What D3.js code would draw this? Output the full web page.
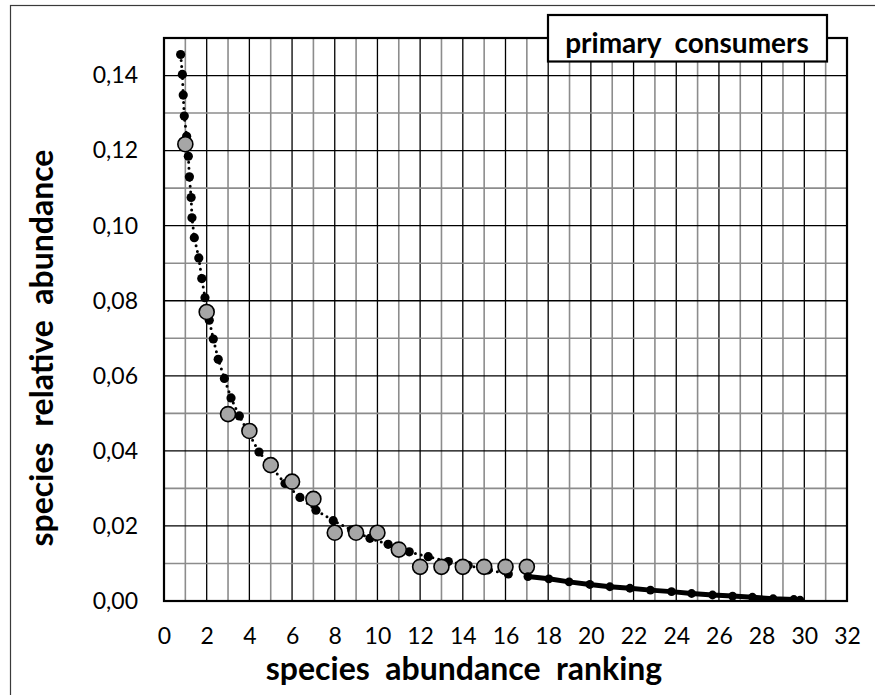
<!DOCTYPE html>
<html>
<head>
<meta charset="utf-8">
<script src="https://cdn.jsdelivr.net/npm/d3@7"></script>
<style>
  html, body { margin: 0; padding: 0; background: #fff; }
  svg { display: block; font-family: Lato, "Open Sans", sans-serif; }
</style>
</head>
<body>
<div id="chart-area"></div>
<script>
// ranked species (sampled, gray circles)
const RANKS = [1, 2, 3, 4, 5, 6, 7, 8, 9, 10, 11, 12, 13, 14, 15, 16, 17];
const OBSERVED = [0.1217, 0.0770, 0.0498, 0.0453, 0.0362, 0.0318, 0.0272, 0.0182, 0.0182,
  0.0182, 0.0137, 0.0091, 0.0091, 0.0091, 0.0091, 0.0091, 0.0091];

// fitted curve, head part (black dots + dotted line)
const FIT_X = [0.78, 0.86, 0.90, 0.95, 1.06, 1.14, 1.19, 1.27, 1.31, 1.42, 1.63, 1.77, 1.92,
  2.12, 2.31, 2.54, 2.83, 3.14, 3.53, 4.45, 5.67, 6.37, 7.12, 7.93, 8.79, 9.65, 10.5,
  11.49, 12.38, 13.32, 14.25, 15.19, 16.13];
const FIT_Y = [0.1456, 0.1403, 0.1348, 0.1292, 0.1238, 0.1185, 0.1130, 0.1075, 0.1021, 0.0968,
  0.0914, 0.0859, 0.0808, 0.0748, 0.0698, 0.0644, 0.0593, 0.0541, 0.0493, 0.0397, 0.0313,
  0.0276, 0.0242, 0.0214, 0.0189, 0.0167, 0.0151, 0.0131, 0.0118, 0.0105, 0.0095, 0.0083,
  0.0072];

// extrapolated tail (black dots + thick line)
const TAIL_X = [17.05, 18.03, 18.98, 19.95, 20.89, 21.83, 22.79, 23.78, 24.72, 25.7, 26.64,
  27.57, 28.54, 29.51, 29.8];
const TAIL_Y = [0.0065, 0.0059, 0.0051, 0.0044, 0.0038, 0.0034, 0.0029, 0.0025, 0.0020,
  0.0016, 0.0013, 0.0010, 0.0006, 0.0004, 0.0002];

const X_TICKS = d3.range(0, 33, 2);
const Y_TICKS = d3.range(0, 0.141, 0.02);

const LEGEND_TEXT = 'primary\u00a0\u00a0consumers';
const X_TITLE = 'species\u00a0\u00a0abundance\u00a0\u00a0ranking';
const Y_TITLE = 'species\u00a0\u00a0relative\u00a0\u00a0abundance';

const W = 875, H = 695;
const margin = { top: 38, right: 28, bottom: 94, left: 164 };
const width = W - margin.left - margin.right;
const height = H - margin.top - margin.bottom;

const x = d3.scaleLinear().domain([0, 32]).range([0, width]);
const y = d3.scaleLinear().domain([0, 0.15]).range([height, 0]);

const zip = (xs, ys) => xs.map((v, i) => ({ x: v, y: ys[i] }));
const observed = zip(RANKS, OBSERVED);
const fit = zip(FIT_X, FIT_Y);
const tail = zip(TAIL_X, TAIL_Y);

const svg = d3.select('#chart-area')
  .append('svg')
  .attr('width', W)
  .attr('height', H);

// outer frame (runs off the picture at right and bottom)
svg.append('rect')
  .attr('x', 10.5)
  .attr('y', 5.5)
  .attr('width', 900)
  .attr('height', 720)
  .attr('fill', 'none')
  .attr('stroke', '#3a3a3a')
  .attr('stroke-width', 1.2);

const chart = svg.append('g')
  .attr('transform', `translate(${margin.left},${margin.top})`);

chart.append('defs')
  .append('clipPath')
  .attr('id', 'clip')
  .append('rect')
  .attr('width', width)
  .attr('height', height);

// grid: odd units gray, even units black
const xGrid = d3.range(1, 32);
const yGrid = d3.range(1, 15).map((d) => d / 100);

chart.append('g')
  .selectAll('line')
  .data(xGrid)
  .join('line')
  .attr('x1', (d) => x(d))
  .attr('x2', (d) => x(d))
  .attr('y1', 0)
  .attr('y2', height)
  .attr('stroke', (d) => d % 2 ? '#8c8c8c' : '#000')
  .attr('stroke-width', (d) => d % 2 ? 1.6 : 1.3);

chart.append('g')
  .selectAll('line')
  .data(yGrid)
  .join('line')
  .attr('x1', 0)
  .attr('x2', width)
  .attr('y1', (d) => y(d))
  .attr('y2', (d) => y(d))
  .attr('stroke', (d, i) => (i + 1) % 2 ? '#8c8c8c' : '#000')
  .attr('stroke-width', (d, i) => (i + 1) % 2 ? 1.6 : 1.3);

// axes, labels only
const fmt = (d) => d3.format('.2f')(d).replace('.', ',');

const xAxis = chart.append('g')
  .attr('transform', `translate(0,${height})`)
  .call(d3.axisBottom(x).tickValues(X_TICKS).tickSize(0).tickPadding(27));
const yAxis = chart.append('g')
  .call(d3.axisLeft(y).tickValues(Y_TICKS).tickFormat(fmt).tickSize(0).tickPadding(26));

[xAxis, yAxis].forEach((a) => {
  a.select('.domain').remove();
  a.selectAll('text')
    .attr('fill', '#000')
    .style('font-family', 'Lato, sans-serif')
    .style('font-size', '23px');
});

const plot = chart.append('g').attr('clip-path', 'url(#clip)');

const line = d3.line()
  .x((d) => x(d.x))
  .y((d) => y(d.y));

// fitted head: dotted line + black dots
plot.append('path')
  .datum(fit)
  .attr('fill', 'none')
  .attr('stroke', '#000')
  .attr('stroke-width', 3)
  .attr('stroke-linecap', 'round')
  .attr('stroke-dasharray', '0 6')
  .attr('d', line);

plot.append('g')
  .selectAll('circle')
  .data(fit)
  .join('circle')
  .attr('cx', (d) => x(d.x))
  .attr('cy', (d) => y(d.y))
  .attr('r', 4.6)
  .attr('fill', '#000');

// observed ranks: gray circles
plot.append('g')
  .selectAll('circle')
  .data(observed)
  .join('circle')
  .attr('cx', (d) => x(d.x))
  .attr('cy', (d) => y(d.y))
  .attr('r', 7.5)
  .attr('fill', '#a6a6a6')
  .attr('stroke', '#000')
  .attr('stroke-width', 1.6);

// tail: thick line + black dots
plot.append('path')
  .datum(tail)
  .attr('fill', 'none')
  .attr('stroke', '#000')
  .attr('stroke-width', 5)
  .attr('d', line);

plot.append('g')
  .selectAll('circle')
  .data(tail)
  .join('circle')
  .attr('cx', (d) => x(d.x))
  .attr('cy', (d) => y(d.y))
  .attr('r', 4.4)
  .attr('fill', '#000');

// plot border
chart.append('rect')
  .attr('width', width)
  .attr('height', height)
  .attr('fill', 'none')
  .attr('stroke', '#000')
  .attr('stroke-width', 2.2);

// legend box
const lg = svg.append('g');
lg.append('rect')
  .attr('x', 548)
  .attr('y', 15)
  .attr('width', 279)
  .attr('height', 46.5)
  .attr('fill', '#fff')
  .attr('stroke', '#000')
  .attr('stroke-width', 2.2);
lg.append('text')
  .attr('x', 687)
  .attr('y', 53)
  .attr('text-anchor', 'middle')
  .style('font-size', '28px')
  .style('font-weight', 700)
  .text(LEGEND_TEXT);

// axis titles
svg.append('text')
  .attr('x', 464)
  .attr('y', 680)
  .attr('text-anchor', 'middle')
  .style('font-size', '32px')
  .style('font-weight', 700)
  .text(X_TITLE);

svg.append('text')
  .attr('transform', 'translate(53,348) rotate(-90)')
  .attr('text-anchor', 'middle')
  .style('font-size', '32px')
  .style('font-weight', 700)
  .text(Y_TITLE);
</script>
</body>
</html>
